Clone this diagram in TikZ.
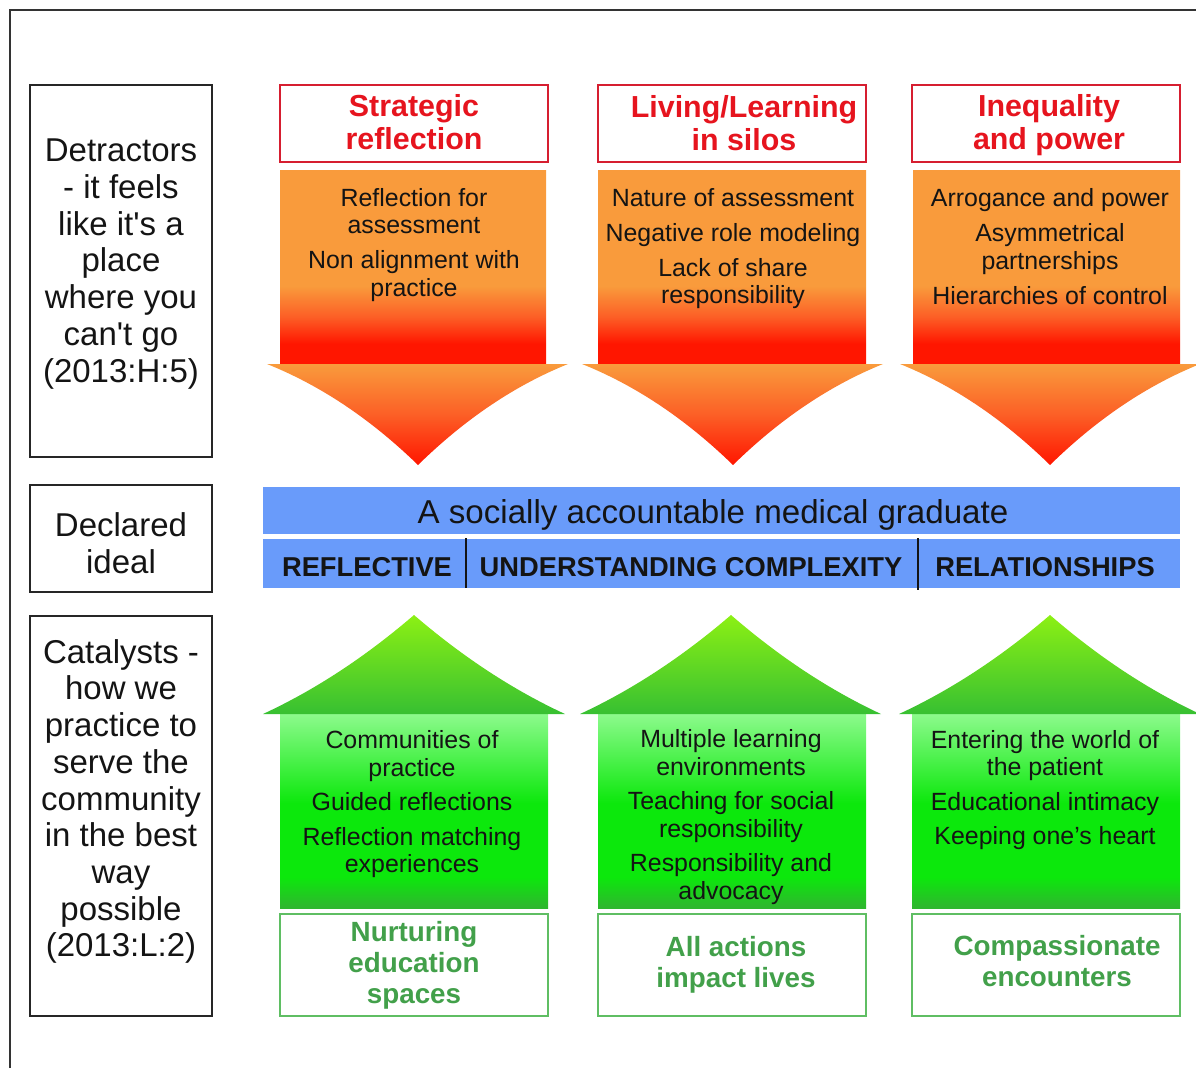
\documentclass[tikz,border=0pt]{standalone}
\usepackage{fontspec}
\setmainfont{Liberation Sans}
\definecolor{ttred}{RGB}{214,30,48}
\definecolor{txtred}{RGB}{230,20,30}
\definecolor{oTop}{RGB}{249,155,60}
\definecolor{oMid}{RGB}{252,95,38}
\definecolor{oRed}{RGB}{255,22,0}
\definecolor{gLight}{RGB}{140,250,140}
\definecolor{gBright}{RGB}{12,232,12}
\definecolor{gDark}{RGB}{45,184,45}
\definecolor{gTip}{RGB}{140,240,20}
\definecolor{gBase}{RGB}{55,192,50}
\definecolor{gFrame}{RGB}{95,190,99}
\definecolor{gText}{RGB}{66,160,74}
\definecolor{barblue}{RGB}{105,155,250}
\definecolor{ink}{RGB}{20,20,20}
% vertical colour ramps for the two arrow bodies (25bp = bottom edge, 75bp = top edge)
\pgfdeclareverticalshading{orangebody}{100bp}{color(0bp)=(oRed); color(30bp)=(oRed); color(37bp)=(oMid); color(45bp)=(oTop); color(100bp)=(oTop)}
\pgfdeclareverticalshading{greenbody}{100bp}{color(0bp)=(gDark); color(25.5bp)=(gDark); color(33bp)=(gBright); color(52bp)=(gBright); color(75bp)=(gLight); color(100bp)=(gLight)}
\begin{document}
\begin{tikzpicture}[x=1pt,y=-1pt,
  frameline/.style={draw=black!80,line width=1.4pt},
  leftbox/.style={draw=black!85,line width=1.6pt,minimum width=182pt,inner sep=0pt},
  lefttext/.style={align=center,text=ink,font=\fontsize{33}{36.7}\selectfont},
  redbox/.style={draw=ttred,line width=1.4pt,minimum width=268pt,minimum height=77pt,inner sep=0pt},
  redtitle/.style={align=center,text=txtred,font=\bfseries\fontsize{30.4}{33}\selectfont},
  greenbox/.style={draw=gFrame,line width=1.6pt,minimum width=268pt,minimum height=102pt,inner sep=0pt},
  greentitle/.style={align=center,text=gText,font=\bfseries\fontsize{27.8}{31}\selectfont},
  bodytext/.style={align=center,text=ink,font=\fontsize{24.9}{27.5}\selectfont},
  bartext/.style={text=ink,font=\fontsize{33.1}{36}\selectfont},
  barlabel/.style={text=ink,font=\bfseries\fontsize{27.3}{30}\selectfont},
  divider/.style={draw=ink,line width=1.6pt}]
\useasboundingbox (0,0) rectangle (1196,1068);

% outer frame (top and left edges)
\draw[frameline] (10,1068) -- (10,10) -- (1196,10);

% row headings on the left
\node[leftbox,minimum height=372pt] (det) at (121,271) {};
\node[leftbox,minimum height=107pt] (ideal) at (121,538.5) {};
\node[leftbox,minimum height=400pt] (cat) at (121,816) {};
\node[lefttext] (detT) at (121,264) {Detractors\\- it feels\\like it\textquotesingle s a\\place\\where you\\can\textquotesingle t go\\(2013:H:5)};
\node[lefttext] (idealT) at (121,543) {Declared\\ideal};
\node[lefttext] (catT) at (121,801.5) {Catalysts -\\how we\\practice to\\serve the\\community\\in the best\\way\\possible\\(2013:L:2)};

% ---- downward arrows (detractors) ----
% arrowhead sides: quadratic curves (base corner, control, tip) written as cubics
\foreach \bl/\br/\hl/\hr/\tip in {280/546/267/568/418, 598/866/582/883/733, 913/1180/900/1200/1050}{
  \shade[shading=orangebody] (\bl,170) rectangle (\br,363);
  \shade[top color=oTop,bottom color=oRed,middle color=oMid]
    (\hl,364) -- (\hr,364)
    .. controls ({\hr-(\hr-\tip)*0.347},{385}) and ({\tip+(\hr-\tip)*0.32},{418}) .. (\tip,465)
    .. controls ({\tip-(\tip-\hl)*0.32},{418}) and ({\hl+(\tip-\hl)*0.347},{385}) .. (\hl,364) -- cycle;
}

\node[redbox] (t1) at (414,123.5) {};
\node[redbox] (t2) at (732,123.5) {};
\node[redbox] (t3) at (1046,123.5) {};
\node[redtitle] (t1T) at (414,122.5) {Strategic\\reflection};
\node[redtitle] (t2T) at (744,123.5) {Living/Learning\\in silos};
\node[redtitle] (t3T) at (1049,125.5) {Inequality\\and power};

\node[bodytext] (o1) at (414,245) {Reflection for\\assessment\\[7.5pt]Non alignment with\\practice};
\node[bodytext] (o2) at (733,248.5) {Nature of assessment\\[7.5pt]Negative role modeling\\[7.5pt]Lack of share\\responsibility};
\node[bodytext] (o3) at (1050,246.5) {Arrogance and power\\[7.5pt]Asymmetrical\\partnerships\\[7.5pt]Hierarchies of control};

% ---- declared ideal bars ----
\fill[barblue] (263,487) rectangle (1180,534);
\fill[barblue] (263,539) rectangle (1180,588);
\node[bartext] (ideal1) at (713,515) {A socially accountable medical graduate};
\node[barlabel] (q1) at (367,567) {REFLECTIVE};
\node[barlabel] (q2) at (691,567) {UNDERSTANDING COMPLEXITY};
\node[barlabel] (q3) at (1045,567) {RELATIONSHIPS};
\coordinate (d1a) at (466,538); \coordinate (d1b) at (466,588);
\coordinate (d2a) at (918,538); \coordinate (d2b) at (918,590);
\draw[divider] (d1a) -- (d1b);
\draw[divider] (d2a) -- (d2b);

% ---- upward arrows (catalysts) ----
\foreach \bl/\br/\hl/\hr/\tip in {280/548/263/565/414, 598/866/580/881/731, 912/1180/899/1200/1050}{
  \shade[shading=greenbody] (\bl,714) rectangle (\br,908);
  \shade[top color=gTip,bottom color=gBase]
    (\hl,714) -- (\hr,714)
    .. controls ({\hr-(\hr-\tip)*0.333},{690.7}) and ({\tip+(\hr-\tip)*0.333},{658.3}) .. (\tip,615)
    .. controls ({\tip-(\tip-\hl)*0.333},{658.3}) and ({\hl+(\tip-\hl)*0.333},{690.7}) .. (\hl,714) -- cycle;
}

\node[bodytext] (g1) at (412,804.5) {Communities of\\practice\\[7pt]Guided reflections\\[7pt]Reflection matching\\experiences};
\node[bodytext] (g2) at (731,817) {Multiple learning\\environments\\[7pt]Teaching for social\\responsibility\\[7pt]Responsibility and\\advocacy};
\node[bodytext] (g3) at (1045,790) {Entering the world of\\the patient\\[7pt]Educational intimacy\\[7pt]Keeping one’s heart};

\node[greenbox] (b1) at (414,965) {};
\node[greenbox] (b2) at (732,965) {};
\node[greenbox] (b3) at (1046,965) {};
\node[greentitle] (b1T) at (414,965.5) {Nurturing\\education\\spaces};
\node[greentitle] (b2T) at (736,965) {All actions\\impact lives};
\node[greentitle] (b3T) at (1057,961.5) {Compassionate\\encounters};
\end{tikzpicture}
\end{document}
